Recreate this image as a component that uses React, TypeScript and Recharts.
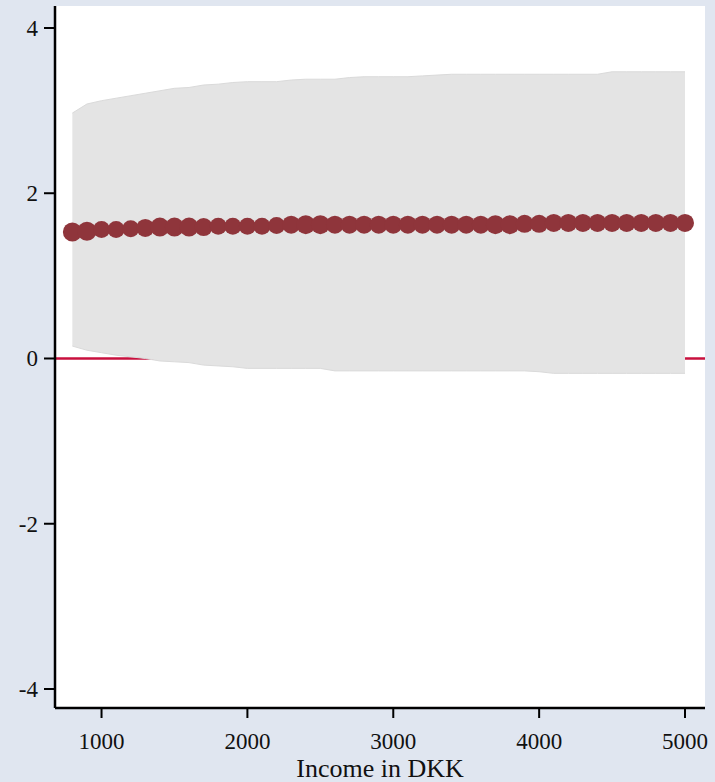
import React from "react";
import {
  ComposedChart,
  Area,
  Scatter,
  XAxis,
  YAxis,
  CartesianGrid,
} from "recharts";

const incomeLevels = [
  800, 900, 1000, 1100, 1200, 1300, 1400, 1500, 1600, 1700, 1800, 1900, 2000,
  2100, 2200, 2300, 2400, 2500, 2600, 2700, 2800, 2900, 3000, 3100, 3200, 3300,
  3400, 3500, 3600, 3700, 3800, 3900, 4000, 4100, 4200, 4300, 4400, 4500, 4600,
  4700, 4800, 4900, 5000,
];

const effect = [
  1.53, 1.54, 1.56, 1.56, 1.57, 1.58, 1.59, 1.59, 1.59, 1.59, 1.6, 1.6, 1.6,
  1.6, 1.61, 1.62, 1.62, 1.62, 1.62, 1.62, 1.62, 1.62, 1.62, 1.62, 1.62, 1.62,
  1.62, 1.62, 1.62, 1.62, 1.62, 1.63, 1.63, 1.64, 1.64, 1.64, 1.64, 1.64, 1.64,
  1.64, 1.64, 1.64, 1.64,
];

const upperCI = [
  2.97, 3.08, 3.12, 3.15, 3.18, 3.21, 3.24, 3.27, 3.28, 3.31, 3.32, 3.34, 3.35,
  3.35, 3.35, 3.37, 3.38, 3.38, 3.38, 3.4, 3.41, 3.41, 3.41, 3.41, 3.42, 3.43,
  3.44, 3.44, 3.44, 3.44, 3.44, 3.44, 3.44, 3.44, 3.44, 3.44, 3.44, 3.47, 3.47,
  3.47, 3.47, 3.47, 3.47,
];

const lowerCI = [
  0.15, 0.1, 0.07, 0.04, 0.02, 0.0, -0.03, -0.04, -0.05, -0.08, -0.09, -0.1,
  -0.12, -0.12, -0.12, -0.12, -0.12, -0.12, -0.15, -0.15, -0.15, -0.15, -0.15,
  -0.15, -0.15, -0.15, -0.15, -0.15, -0.15, -0.15, -0.15, -0.15, -0.16, -0.18,
  -0.18, -0.18, -0.18, -0.18, -0.18, -0.18, -0.18, -0.18, -0.18,
];

const markerRadius = [
  9.5, 9.5, 8.5, 8.5, 8.5, 9, 9.5, 9.5, 9.5, 9, 8.5, 8.5, 8.5, 8.5, 8.5, 9,
  9.5, 9.5, 9, 9, 9, 9, 9, 9, 9, 9, 9, 9, 9, 9.5, 9.5, 9, 9, 9, 9, 9, 9, 9, 9,
  9, 9, 9, 9,
];

const xTicks = [1000, 2000, 3000, 4000, 5000];
const yTicks = [-4, -2, 0, 2, 4];
const zeroLineValues = [0];
const xTitle = "Income in DKK";

const data = incomeLevels.map((x, i) => ({
  x,
  y: effect[i],
  band: [lowerCI[i], upperCI[i]],
  r: markerRadius[i],
}));

const FONT = "'Liberation Serif', 'Times New Roman', 'DejaVu Serif', serif";

const XTick = (props: any) => {
  const { x, y, payload } = props;
  return (
    <text
      x={x}
      y={y + 31}
      textAnchor="middle"
      style={{ fontFamily: FONT, fontSize: 23 }}
      fill="#111"
    >
      {payload.value}
    </text>
  );
};

const YTick = (props: any) => {
  const { x, y, payload } = props;
  return (
    <text
      x={x}
      y={y + 8}
      textAnchor="end"
      style={{ fontFamily: FONT, fontSize: 23 }}
      fill="#111"
    >
      {payload.value}
    </text>
  );
};

const XTitle = (props: any) => {
  const { viewBox } = props;
  const cx = viewBox.x + viewBox.width / 2;
  return (
    <text
      x={cx}
      y={777}
      textAnchor="middle"
      style={{ fontFamily: FONT, fontSize: 26 }}
      fill="#111"
    >
      {xTitle}
    </text>
  );
};

const Dot = (props: any) => {
  const { cx, cy, payload } = props;
  return <circle cx={cx} cy={cy} r={payload.r} fill="#8f353b" />;
};

export default function App() {
  return (
    <div
      style={{
        position: "fixed",
        left: 0,
        top: 0,
        width: 715,
        height: 782,
        background: "#e0e6f0",
      }}
    >
      <ComposedChart
        width={715}
        height={782}
        data={data}
        margin={{ top: 6, right: 10, bottom: 0, left: 0 }}
      >
        <CartesianGrid
          fill="#ffffff"
          stroke="#c8103e"
          strokeWidth={2.5}
          horizontal={true}
          vertical={false}
          horizontalValues={zeroLineValues}
        />
        <XAxis
          dataKey="x"
          type="number"
          domain={[681, 5137]}
          ticks={xTicks}
          allowDataOverflow
          height={74}
          tickSize={10}
          tickMargin={0}
          axisLine={{ stroke: "#000", strokeWidth: 2.5 }}
          tickLine={{ stroke: "#000", strokeWidth: 2 }}
          tick={<XTick />}
          label={<XTitle />}
        />
        <YAxis
          type="number"
          domain={[-4.23, 4.266]}
          ticks={yTicks}
          allowDataOverflow
          width={55}
          tickSize={11}
          tickMargin={6}
          axisLine={{ stroke: "#000", strokeWidth: 2.5 }}
          tickLine={{ stroke: "#000", strokeWidth: 2 }}
          tick={<YTick />}
        />
        <Area
          type="linear"
          dataKey="band"
          fill="#e4e4e4"
          fillOpacity={1}
          stroke="#dadada"
          strokeWidth={1}
          isAnimationActive={false}
          activeDot={false}
          dot={false}
        />
        <Scatter dataKey="y" shape={<Dot />} isAnimationActive={false} />
      </ComposedChart>
    </div>
  );
}
